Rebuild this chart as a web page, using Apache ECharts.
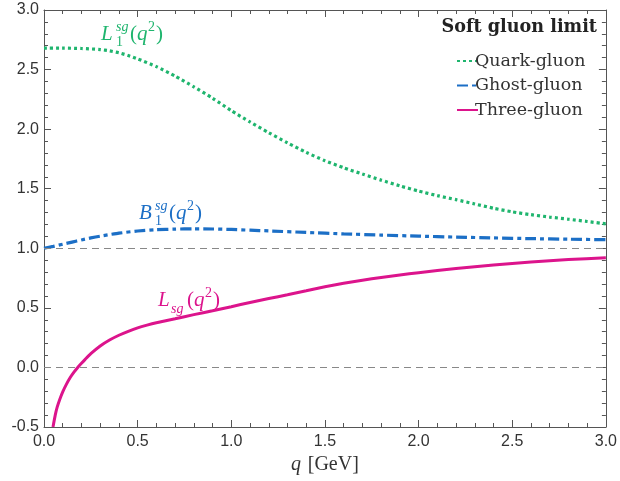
<!DOCTYPE html>
<html>
<head>
<meta charset="utf-8">
<script src="https://cdn.jsdelivr.net/npm/echarts@6/dist/echarts.min.js"></script>
<style>
html,body{margin:0;padding:0;background:#fff;}
#chart{width:620px;height:481px;}
</style>
</head>
<body>
<div id="chart"></div>
<script>
// ---- data ----
var quarkQ = [0, 0.1, 0.2, 0.3, 0.35, 0.4, 0.45, 0.5, 0.6, 0.7, 0.8, 0.9, 1.0, 1.1, 1.2, 1.3, 1.4, 1.5, 1.6, 1.7, 1.8, 1.9, 2.0, 2.1, 2.2, 2.3, 2.4, 2.5, 2.6, 2.7, 2.8, 2.9, 3.0];
var quarkV = [2.68, 2.68, 2.677, 2.668, 2.657, 2.641, 2.618, 2.59, 2.525, 2.445, 2.355, 2.26, 2.155, 2.06, 1.97, 1.885, 1.805, 1.735, 1.676, 1.623, 1.572, 1.524, 1.48, 1.442, 1.408, 1.372, 1.336, 1.306, 1.282, 1.262, 1.244, 1.225, 1.205];

var ghostQ = [0, 0.05, 0.1, 0.15, 0.2, 0.25, 0.3, 0.35, 0.4, 0.5, 0.6, 0.7, 0.8, 0.9, 1.0, 1.1, 1.2, 1.4, 1.6, 1.8, 2.0, 2.2, 2.4, 2.6, 2.8, 3.0];
var ghostV = [1.0, 1.016, 1.034, 1.052, 1.07, 1.087, 1.102, 1.115, 1.127, 1.145, 1.156, 1.161, 1.163, 1.162, 1.158, 1.152, 1.146, 1.133, 1.121, 1.111, 1.102, 1.094, 1.087, 1.081, 1.076, 1.072];

var threeQ = [0.048, 0.06, 0.07, 0.085, 0.1, 0.12, 0.14, 0.16, 0.18, 0.2, 0.22, 0.25, 0.3, 0.35, 0.4, 0.45, 0.5, 0.55, 0.6, 0.7, 0.8, 0.9, 1.0, 1.1, 1.2, 1.3, 1.4, 1.5, 1.6, 1.7, 1.8, 1.9, 2.0, 2.2, 2.4, 2.6, 2.8, 3.0];
var threeV = [-0.5, -0.40, -0.335, -0.265, -0.205, -0.14, -0.085, -0.04, 0.0, 0.035, 0.068, 0.115, 0.18, 0.23, 0.27, 0.303, 0.332, 0.355, 0.375, 0.409, 0.443, 0.476, 0.51, 0.545, 0.578, 0.61, 0.643, 0.677, 0.706, 0.732, 0.755, 0.776, 0.795, 0.83, 0.86, 0.885, 0.905, 0.921];

var seriesNames = ['Quark-gluon', 'Ghost-gluon', 'Three-gluon'];
var refLines = [1.0, 0.0];
var legendTitle = 'Soft gluon limit';

function pairs(xs, ys) { return xs.map(function (x, i) { return [x, ys[i]]; }); }

var GREEN = '#1fb56e', BLUE = '#1c6fc6', MAGENTA = '#dc148c';
var SERIF = '"Liberation Serif", "DejaVu Serif", serif';
var LSERIF = '"DejaVu Serif", "Liberation Serif", serif';
var SANS = '"Liberation Sans", Arial, sans-serif';
var FRAME = '#555';

var chart = echarts.init(document.getElementById('chart'));

function axisCommon(showLabels, pos) {
  return {
    type: 'value',
    position: pos,
    axisLine: { show: true, onZero: false, lineStyle: { color: FRAME, width: 1 } },
    axisTick: { show: true, inside: true, length: 7, lineStyle: { color: FRAME } },
    minorTick: { show: true, splitNumber: 5, length: 4, lineStyle: { color: FRAME } },
    splitLine: { show: false },
    axisLabel: { show: showLabels }
  };
}

var xBottom = Object.assign(axisCommon(true, 'bottom'), {
  min: 0, max: 3, interval: 0.5,
  axisLabel: { show: true, fontFamily: SANS, fontSize: 16, color: '#333', margin: 7,
    formatter: function (v) { return v.toFixed(1); } },
  name: '{i|q}  {n|[GeV]}', nameLocation: 'middle', nameGap: 27,
  nameTextStyle: { rich: {
    i: { fontFamily: SERIF, fontStyle: 'italic', fontSize: 20, color: '#333' },
    n: { fontFamily: SERIF, fontSize: 20, color: '#333' } } }
});
var xTop = Object.assign(axisCommon(false, 'top'), { min: 0, max: 3, interval: 0.5 });
var yLeft = Object.assign(axisCommon(true, 'left'), {
  min: -0.5, max: 3, interval: 0.5,
  axisLabel: { show: true, fontFamily: SANS, fontSize: 16, color: '#333', margin: 5,
    formatter: function (v) { return v.toFixed(1); } }
});
var yRight = Object.assign(axisCommon(false, 'right'), { min: -0.5, max: 3, interval: 0.5 });

function label(parts, color) {
  // parts: [text, dx, dy, size, italic]
  return parts.map(function (p) {
    return { type: 'text', x: p[1], y: p[2], style: {
      text: p[0], fill: color, fontFamily: SERIF, fontSize: p[3],
      fontStyle: p[4] ? 'italic' : 'normal', textVerticalAlign: 'bottom' } };
  });
}

function lineSeries(i, xs, ys, color, width, type) {
  return { name: seriesNames[i], type: 'line', data: pairs(xs, ys),
    smooth: 0.2, showSymbol: false, symbol: 'none',
    color: color, lineStyle: { color: color, width: width, type: type }, z: 3 };
}

var sMag = lineSeries(2, threeQ, threeV, MAGENTA, 3, 'solid');
sMag.markLine = { silent: true, symbol: 'none', label: { show: false },
  lineStyle: { color: '#888', width: 1, type: [7, 5] },
  data: refLines.map(function (v) { return { yAxis: v }; }) };

chart.setOption({
  animation: false,
  backgroundColor: '#fff',
  grid: { left: 44, right: 11, top: 10, bottom: 54 },
  xAxis: [xBottom, xTop],
  yAxis: [yLeft, yRight],
  legend: {
    orient: 'vertical', left: 451, top: 46,
    itemWidth: 21, itemHeight: 12, itemGap: 4.5,
    itemStyle: { opacity: 0 },
    textStyle: { fontFamily: LSERIF, fontSize: 17.5, lineHeight: 20, color: '#333', padding: [0, 0, 0, -8] },
    data: seriesNames
  },
  graphic: [
    { type: 'text', right: 23, top: 18, style: { text: legendTitle, fontFamily: LSERIF, fontWeight: 'bold', fontSize: 17.6, fill: '#222' } },
    { type: 'group', left: 101, top: 20, children: label([
      ['L', 0, 24, 21, true], ['sg', 15, 13, 14, true], ['1', 15, 28, 14, false],
      ['(', 29, 24, 21, false], ['q', 36, 24, 21, true], ['2', 47, 13, 14, false], [')', 55, 24, 21, false]
    ], GREEN) },
    { type: 'group', left: 139, top: 199, children: label([
      ['B', 0, 24, 21, true], ['sg', 16, 13, 14, true], ['1', 16, 28, 14, false],
      ['(', 30, 24, 21, false], ['q', 37, 24, 21, true], ['2', 48, 13, 14, false], [')', 56, 24, 21, false]
    ], BLUE) },
    { type: 'group', left: 158, top: 286, children: label([
      ['L', 0, 24, 21, true], ['sg', 13, 29, 14, true],
      ['(', 29, 24, 21, false], ['q', 36, 24, 21, true], ['2', 47, 13, 14, false], [')', 55, 24, 21, false]
    ], MAGENTA) }
  ],
  series: [
    lineSeries(0, quarkQ, quarkV, GREEN, 3.2, [3, 3]),
    lineSeries(1, ghostQ, ghostV, BLUE, 3.2, [11, 4, 4, 4]),
    sMag
  ]
});
</script>
</body>
</html>
